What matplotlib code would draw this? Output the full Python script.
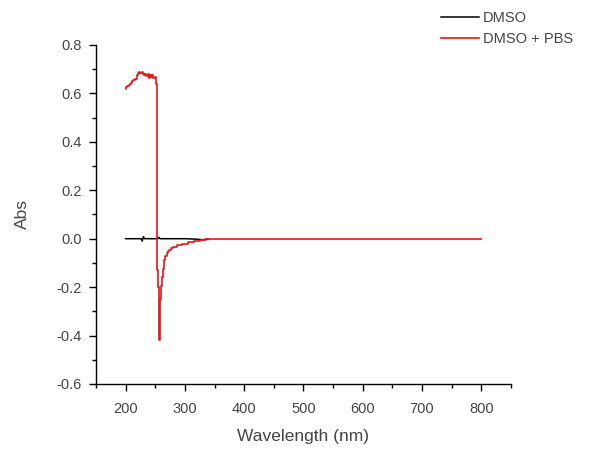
import matplotlib
matplotlib.use("Agg")
import matplotlib.pyplot as plt
from matplotlib.ticker import MultipleLocator

plt.rcParams['font.family'] = ['Liberation Sans', 'DejaVu Sans']

# DMSO (black)
wl_dmso = [200, 210, 220, 226, 228, 230, 232, 240, 250, 254, 256, 258, 260, 280, 300, 320, 330, 340]
abs_dmso = [0.0, 0.0, 0.0, 0.0, -0.01, 0.008, 0.0, 0.0, 0.0, 0.0, 0.006, 0.0, 0.0, 0.0, 0.0, -0.002, -0.004, -0.003]

# DMSO + PBS (red)
wl_pbs = [200, 202, 204, 206, 208, 210, 212, 214, 216, 218, 220, 222, 224, 226, 228, 230,
          232, 234, 236, 238, 240, 242, 244, 246, 248, 250, 251, 252, 253, 254, 255, 256,
          257, 258, 259, 260, 262, 264, 266, 268, 270, 272, 274, 278, 283, 290, 300, 310,
          320, 330, 338, 350, 400, 500, 600, 700, 800]
abs_pbs = [0.62, 0.625, 0.63, 0.635, 0.64, 0.645, 0.65, 0.655, 0.66, 0.66, 0.675, 0.685, 0.69, 0.685, 0.69, 0.68,
           0.675, 0.68, 0.672, 0.68, 0.665, 0.675, 0.668, 0.675, 0.665, 0.668, 0.655, 0.64, 0.60, -0.13, -0.20, -0.30,
           -0.42, -0.30, -0.25, -0.195, -0.16, -0.125, -0.09, -0.07, -0.06, -0.052, -0.046, -0.04, -0.035, -0.028, -0.02, -0.014,
           -0.01, -0.006, -0.002, 0.0, 0.0, 0.0, 0.0, 0.0, 0.0]

fig = plt.figure(figsize=(5.94, 4.5), dpi=100)
ax = fig.add_axes([0.1616, 0.1467, 0.86 - 0.1616, 0.9 - 0.1467])

ax.plot(wl_dmso, abs_dmso, color='black', lw=1.1, label='DMSO')
ax.plot(wl_pbs, abs_pbs, color='#e8141c', lw=1.2, label='DMSO + PBS', drawstyle='steps-mid')

ax.set_xlim(150, 850)
ax.set_ylim(-0.6, 0.8)
ax.xaxis.set_minor_locator(MultipleLocator(50))
ax.yaxis.set_minor_locator(MultipleLocator(0.1))
ax.set_xticks([200, 300, 400, 500, 600, 700, 800])
ax.set_yticks([-0.6, -0.4, -0.2, 0.0, 0.2, 0.4, 0.6, 0.8])
ax.set_yticklabels(['-0.6', '-0.4', '-0.2', '0.0', '0.2', '0.4', '0.6', '0.8'])

for s in ['top', 'right']:
    ax.spines[s].set_visible(False)
for s in ['left', 'bottom']:
    ax.spines[s].set_linewidth(1.0)
ax.tick_params(which='major', direction='out', length=5, width=1, labelsize=10.5, labelcolor='#444444')
ax.tick_params(axis='x', which='major', pad=8)
ax.tick_params(axis='y', which='major', pad=5)
ax.tick_params(which='minor', direction='out', length=3, width=1)

ax.set_xlabel('Wavelength (nm)', fontsize=12.5, color='#444444', labelpad=9)
ax.set_ylabel('Abs', fontsize=12.5, color='#444444', labelpad=19)

fig.legend(loc='upper left', bbox_to_anchor=(0.72, 1.005), frameon=False, fontsize=10.5,
           handlelength=2.6, handletextpad=0.3, labelspacing=0.5, labelcolor='#444444')

fig.savefig('out.png', dpi=100)
